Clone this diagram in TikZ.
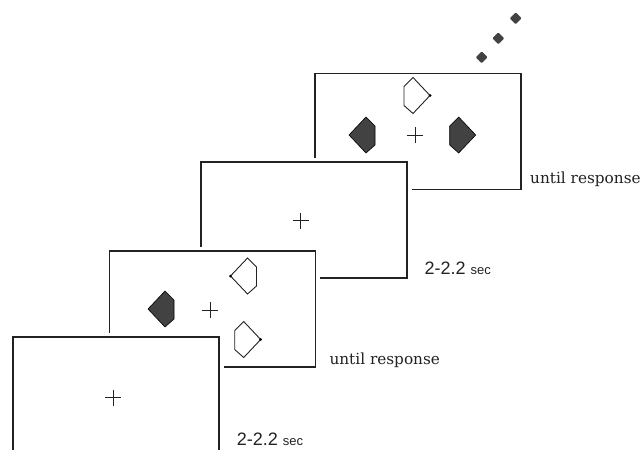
\documentclass[tikz,border=0pt]{standalone}
\usepackage{fontspec}
\setmainfont{DejaVu Serif}
\newfontfamily\lsans{Liberation Sans}
\usetikzlibrary{shapes.geometric}
\definecolor{ink}{HTML}{222222}
\definecolor{shade}{HTML}{424242}
\tikzset{
  screen/.style={draw=ink, line width=1.6pt, fill=white, rectangle,
    inner sep=0pt, outer sep=0pt, minimum width=206pt, minimum height=116pt,
    preaction={draw=white, line width=9pt}},
  fixcross/.pic={\draw[ink, line width=1pt] (-8,0) -- (8,0) (0,-8) -- (0,8);},
  stim/.pic={\path[pic actions] (-17,0) -- (0,-18) -- (9,-9) -- (9,10) -- (0,18) -- cycle;},
  filledstim/.style={fill=shade, draw=black, line width=0.6pt},
  openstim/.style={draw=ink, line width=0.9pt, fill=white},
  tipdot/.style={fill=black, circle, inner sep=0pt, minimum size=3pt},
  more/.style={diamond, fill=shade, rounded corners=1pt, inner sep=0pt, minimum width=12pt, minimum height=12pt},
  lab/.style={anchor=base west, inner sep=0pt, text=ink, font=\fontsize{15.3}{18}\selectfont},
}
\begin{document}
\begin{tikzpicture}[x=1pt, y=-1pt]
\useasboundingbox[fill=white] (0,0) rectangle (643,450);
% back screen (4)
\node[screen] (s4) at (418,131.5) {};
\pic at (415,135) {fixcross};
\pic[filledstim] at (366,135) {stim};
\pic[filledstim, xscale=-1] at (458.7,135) {stim};
\pic[openstim, xscale=-1] at (413,95.5) {stim};
\node[tipdot] (d4) at (430,95.5) {};
\node[more] (m1) at (481.7,57.3) {};
\node[more] (m2) at (498.3,38.3) {};
\node[more] (m3) at (515.7,18.3) {};
\node[lab] (l4) at (530,183) {until response};
% screen 3
\node[screen] (s3) at (304,220) {};
\pic at (300.7,220.7) {fixcross};
\node[lab] (l3) at (424.3,274) {\lsans\fontsize{18}{20}\selectfont 2-2.2 {\fontsize{13}{15}\selectfont sec}};
% screen 2
\node[screen] (s2) at (212.5,309) {};
\pic at (210,310) {fixcross};
\pic[filledstim] at (165,309) {stim};
\pic[openstim] at (247.5,276) {stim};
\node[tipdot] (d2a) at (230.5,276) {};
\pic[openstim, xscale=-1] at (243.7,339.5) {stim};
\node[tipdot] (d2b) at (260.7,339.5) {};
\node[lab] (l2) at (329.3,364) {until response};
% front screen (1)
\node[screen] (s1) at (116,395) {};
\pic at (113,397.7) {fixcross};
\node[lab] (l1) at (236.7,445.5) {\lsans\fontsize{18}{20}\selectfont 2-2.2 {\fontsize{13}{15}\selectfont sec}};
\end{tikzpicture}
\end{document}
